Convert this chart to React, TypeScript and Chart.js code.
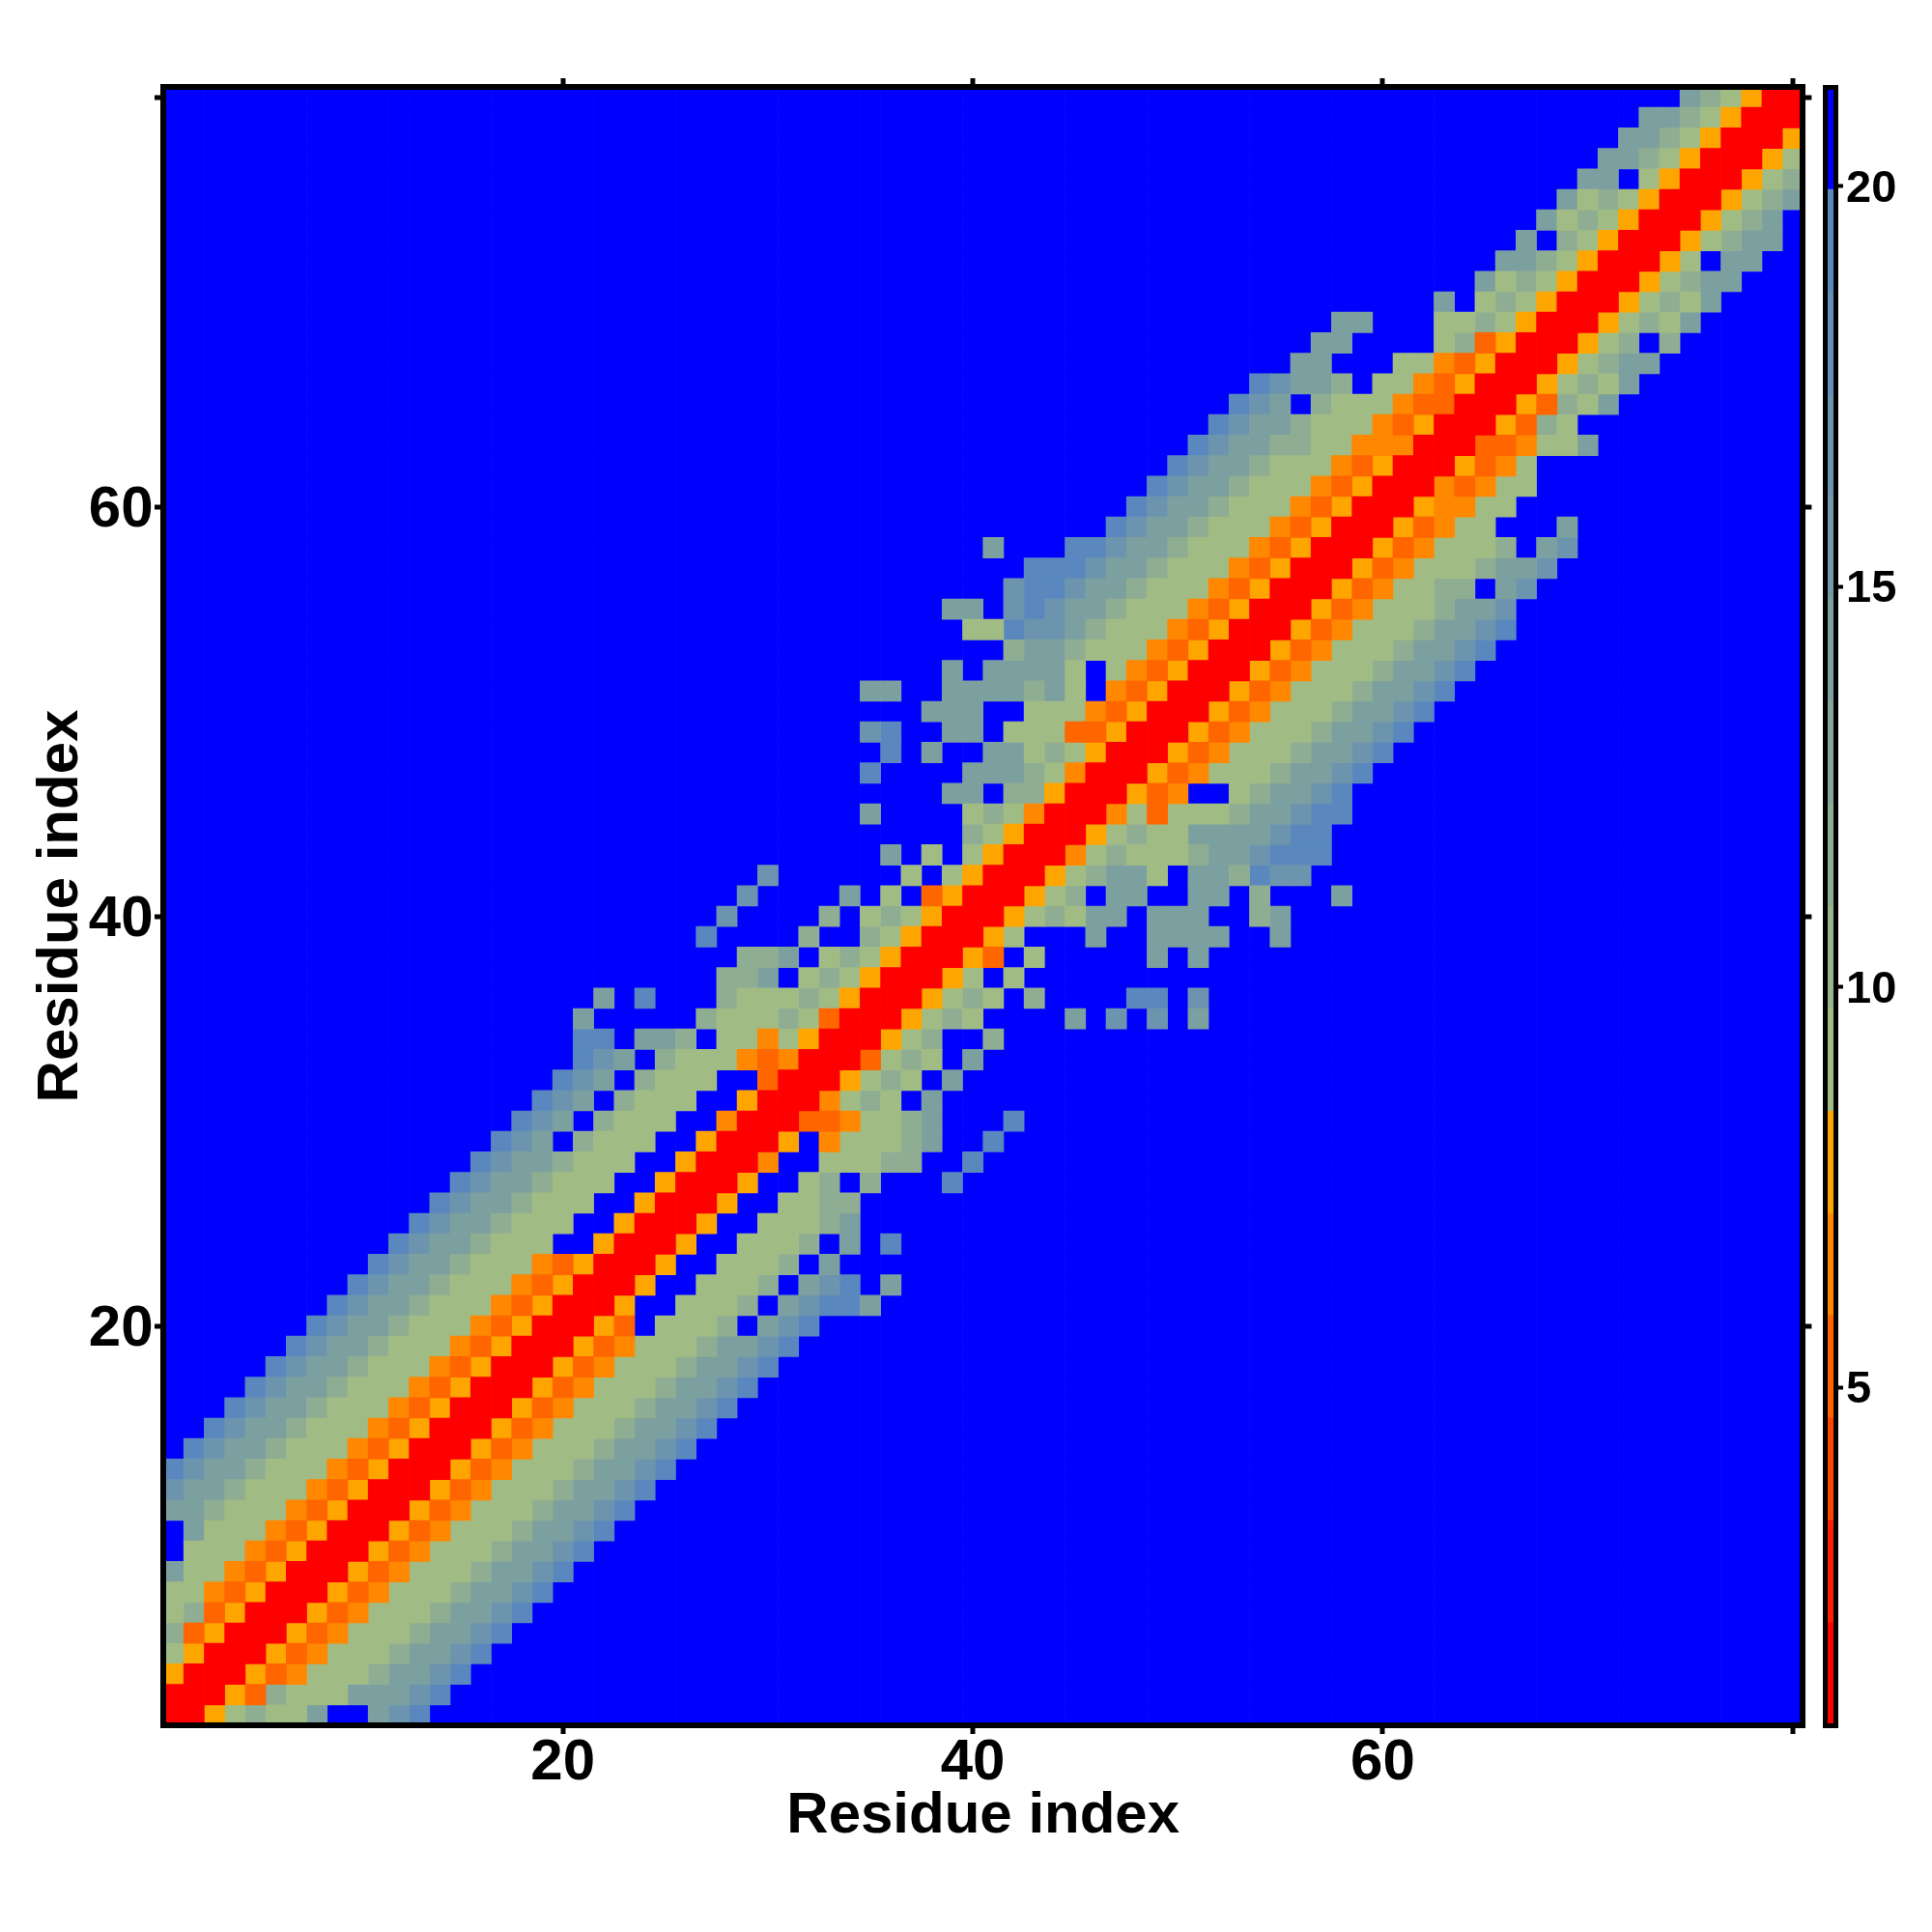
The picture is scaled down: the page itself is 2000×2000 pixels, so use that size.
import React, { useEffect, useRef } from "react";
import { Chart, registerables } from "chart.js";

Chart.register(...registerables);

const residueMin = 0.5;
const residueMax = 80.5;
const axisTicks = [20, 40, 60, 80];
const labelledTicks = [20, 40, 60];
const axisTitle = "Residue index";

// cell classes
const classKeys = [".", "b", "u", "t", "h", "g", "A", "N", "D", "R"];
const classColors = ["#0000FF", "#5A88BE", "#6C94AE", "#7C9F9F", "#8FAD92", "#A1BB85", "#FFA500", "#FF8800", "#FF6600", "#FF0000"];

// first column of each row (row 1 .. row 80)
const rowStarts = [
  1, 1, 1, 1, 1, 1, 1, 1, 1, 1, 1, 1, 1, 2, 3, 4, 5, 6, 7, 8,
  9, 10, 11, 12, 13, 14, 15, 16, 17, 18, 19, 20, 21, 21, 21, 22, 28, 29, 27, 28,
  29, 30, 36, 40, 35, 39, 35, 36, 35, 38, 35, 39, 42, 40, 39, 42, 43, 41, 47, 48,
  49, 50, 51, 52, 53, 54, 56, 57, 58, 63, 65, 66, 67, 68, 69, 70, 71, 72, 73, 75,
];

// cells of each row from that first column on
const rowCells = [
  "RRAghggt..tub",
  "RRRADhgggtttub",
  "ARRRADNggghttub",
  "gARRRADNggghttub",
  "hDARRRADNggghttub",
  "ghDARRRADNggghttub",
  "ggNDARRRADNggghttub",
  "tggNDARRRADNggghttub",
  ".gggNDARRRADNggghttub",
  ".tgggNDARRRADNggghttub",
  "tthgggNDARRRADNggghttub",
  "utthgggNDARRRADNggghttub",
  "butthgggNDARRRADNggghttub",
  "butthgggNDARRRADNggghttub",
  "butthgggNDARRRADNggghttub",
  "butthgggNDARRRADNggghttub",
  "butthgggNDARRRADNggghttub",
  "butthgggNDARRRADNggghttub",
  "butthgggNDARRRADNggghttub",
  "butthgggNDARRRAD.gggh.tub",
  "butthgggNDARRRA..gggh.tubbt",
  "butthgggNDARRRA..gggh.tub.t",
  "butthgggNDARRRA..gggh.t",
  "butthggg..ARRRA..gggh.t.b",
  "butthggg..ARRRA..ggght",
  "butthggg..ARRRA..gghh",
  "butthggg..ARRRA..gh.h...b",
  "butthggg..ARRRN..ggghh..b",
  "but.hggg..ARRRA.Nggght..b",
  "but.hggg..NRRRDDNgght...b",
  "but.hggg..ARRRNghg.t",
  "but.hggg..DRRRAghg.t",
  "but.hgggNDNRRRDghg.t",
  "bb.tth.ggNgARRRAgh..h",
  "t.....hggghgDRRRAghg....t.u.u.t",
  "t.b...hggghgARRRAghg.h....bb.u",
  "hht.ghgARRRAg.g",
  "hht.ghgARRRAD.g.....t.t",
  "b....h..hgARRRAg...t..tttt..t",
  "u....h.ghgARRRAghgtt.ttt..ht",
  "u....t.g.DARRRAgh.tt..tt.h...t",
  "u......g.gARRRAghttg.tthbuu",
  "t.g.gARRRNghggghttubbb",
  "hgARRRAghggttttubb",
  "t....ghgNRRRNgDggghttubb",
  "tt.hhARRRADN..ghttub",
  "b....ttthgNRRRADNggghttub",
  "b.t..ttghgARRRADNggghttub",
  "ub..tt.gggDDARRRADNggghttub",
  "ttt..gggNDARRRADNggghttub",
  "tt..tttthtg.NDARRRADNggghttub",
  "t.ttttg.gNDARRRADNggghttub",
  "htthgggNDARRRADNggghttub",
  "ggbuuthgggNDARRRADNggghttub",
  "tt.ubutthgggNDARRRADNggghttu",
  "ubbutthgggNDARRRADNgghh.tu",
  "bbbutthgggNDARRRADNggghttu",
  "t...bbutthgggNDARRRADNgggh.tu",
  "butthgggNDARRRADNgg...t",
  "butthgggNDARRRANNgg",
  "butthgggNDARRRNDNgg",
  "butthgggNDARRRADNg",
  "butthhggNNNRRRDDNggt",
  "butthgggNDARRRADhg",
  "but.hgggNDDRRRADhgt",
  "butth.ggNDARRRAghgt",
  "tt...ggNDARRRAghtt",
  "tt....ghDARRRAgh.h",
  "tt...gghgARRRAghgt",
  "t.ghgARRRAghgt",
  "tghgARRRAghtt",
  "tthgARRRAg.tt",
  "t.hgARRRAghtt",
  "tghgARRRAght",
  "tghgARRRAght",
  "tt.gARRRAgh",
  "tthgARRRAg",
  "tthgARRRA",
  "tthgARRR",
  "thgARR",
];

// colour key
const keyEdges = [0.78, 2.06, 3.34, 4.62, 5.9, 7.17, 8.45, 9.73, 11.01, 12.29, 13.57, 14.85, 16.13, 17.4, 18.68, 19.96, 21.24];
const keyColors = [
  "#FF0000", "#FF2000", "#FF4400", "#FF6600", "#FF8800", "#FFA500",
  "#A1BB85", "#98B48B", "#8FAD92", "#85A699", "#7C9F9F", "#749AA6",
  "#6C94AE", "#638EB6", "#5A88BE", "#0000FF",
];
const keyTicks = [5, 10, 15, 20];

const FONT = "'Liberation Sans', Arial, sans-serif";
const black = "#000000";

function buildCellDatasets() {
  const groups: Record<string, { x: number; y: number[] }[]> = {};
  classKeys.forEach((k) => (groups[k] = []));
  for (let r = 1; r <= 80; r++) {
    const start = rowStarts[r - 1];
    const cells = rowCells[r - 1];
    for (let c = 1; c <= 80; c++) {
      const key = c >= start && c - start < cells.length ? cells[c - start] : ".";
      groups[key].push({ x: c, y: [r - 0.5, r + 0.5] });
    }
  }
  return classKeys.map((k, i) => ({
    label: k,
    data: groups[k],
    xAxisID: "x",
    yAxisID: "y",
    backgroundColor: classColors[i],
    borderWidth: 0,
    order: classKeys.length - i,
    barPercentage: 1,
    categoryPercentage: 1,
    grouped: false,
  }));
}

function fixTicks(values: number[]) {
  return (scale: any) => {
    scale.ticks = values.map((value) => ({ value }));
  };
}

function sized(prop: "width" | "height", amount: number) {
  return (scale: any) => {
    scale[prop] = amount;
  };
}

function frameAxis(position: string, values: number[], showLabels: boolean, size: number, title: any, border: number) {
  const horizontal = position === "top" || position === "bottom";
  return {
    type: "linear",
    position,
    min: residueMin,
    max: residueMax,
    offset: false,
    grid: {
      display: true,
      drawOnChartArea: false,
      drawTicks: true,
      tickLength: 9,
      tickWidth: 5,
      tickColor: black,
      lineWidth: border,
      color: black,
      offset: false,
    },
    border: { display: true, color: black, width: border, z: 1 },
    afterBuildTicks: fixTicks(values),
    afterFit: sized(horizontal ? "height" : "width", size),
    title,
    ticks: {
      display: showLabels,
      autoSkip: false,
      maxRotation: 0,
      minRotation: 0,
      color: black,
      padding: horizontal ? -6 : 1.5,
      labelOffset: horizontal ? 0 : 4,
      font: { family: FONT, weight: "bold", size: 60 },
      callback: (v: any) => (labelledTicks.includes(Number(v)) ? String(v) : ""),
    },
  };
}

export default function App() {
  const mainRef = useRef<HTMLCanvasElement>(null);
  const keyRef = useRef<HTMLCanvasElement>(null);

  useEffect(() => {
    const main = new Chart(mainRef.current as HTMLCanvasElement, {
      type: "bar",
      data: { datasets: buildCellDatasets() as any },
      options: {
        animation: false,
        responsive: false,
        devicePixelRatio: 1,
        events: [],
        layout: { padding: 0 },
        plugins: { legend: { display: false }, tooltip: { enabled: false } },
        scales: {
          x: frameAxis("bottom", axisTicks, true, 214, {
            display: true,
            text: axisTitle,
            color: black,
            font: { family: FONT, weight: "bold", size: 60 },
            padding: { top: 0, bottom: 84 },
          }, 6),
          y: frameAxis("left", axisTicks, true, 169, {
            display: true,
            text: axisTitle,
            color: black,
            font: { family: FONT, weight: "bold", size: 60 },
            padding: { top: 27, bottom: 0 },
          }, 6),
          xTop: frameAxis("top", axisTicks, false, 90, { display: false }, 6),
          yRight: frameAxis("right", axisTicks, false, 133.6, { display: false }, 6),
        } as any,
      },
    });

    const keyPlain = (position: string, size: number) => ({
      type: "linear",
      position,
      min: 0,
      max: 1,
      grid: { display: true, drawOnChartArea: false, drawTicks: false, lineWidth: 5, color: black },
      border: { display: true, color: black, width: 5, z: 1 },
      ticks: { display: false },
      afterFit: sized(position === "left" ? "width" : "height", size),
    });

    const key = new Chart(keyRef.current as HTMLCanvasElement, {
      type: "bar",
      data: {
        labels: [""],
        datasets: keyColors.map((color, i) => ({
          label: String(i),
          data: [[keyEdges[i], keyEdges[i + 1]]],
          xAxisID: "x",
          yAxisID: "y",
          backgroundColor: color,
          borderWidth: 0,
          barPercentage: 1,
          categoryPercentage: 1,
          grouped: false,
        })) as any,
      },
      options: {
        animation: false,
        responsive: false,
        devicePixelRatio: 1,
        events: [],
        layout: { padding: 0 },
        plugins: { legend: { display: false }, tooltip: { enabled: false } },
        scales: {
          x: {
            type: "category",
            position: "bottom",
            grid: { display: true, drawOnChartArea: false, drawTicks: false, lineWidth: 5, color: black },
            border: { display: true, color: black, width: 5, z: 1 },
            ticks: { display: false },
            afterFit: sized("height", 214),
          },
          xTop: keyPlain("top", 90),
          yLeft: keyPlain("left", 29.3),
          y: {
            type: "linear",
            position: "right",
            min: keyEdges[0],
            max: keyEdges[keyEdges.length - 1],
            grid: {
              display: true,
              drawOnChartArea: false,
              drawTicks: true,
              tickLength: 7,
              tickWidth: 4,
              tickColor: black,
              lineWidth: 5,
              color: black,
            },
            border: { display: true, color: black, width: 5, z: 1 },
            afterBuildTicks: fixTicks(keyTicks),
            afterFit: sized("width", 99),
            ticks: {
              color: black,
              padding: 3,
              labelOffset: 3,
              autoSkip: false,
              font: { family: FONT, weight: "bold", size: 47 },
            },
          },
        } as any,
      },
    });

    return () => {
      main.destroy();
      key.destroy();
    };
  }, []);

  return (
    <div style={{ position: "absolute", left: 0, top: 0, width: 2000, height: 2000, background: "#fff" }}>
      <canvas ref={mainRef} width={2000} height={2000} style={{ position: "absolute", left: 0, top: 0 }} />
      <canvas ref={keyRef} width={140} height={2000} style={{ position: "absolute", left: 1860, top: 0 }} />
    </div>
  );
}
